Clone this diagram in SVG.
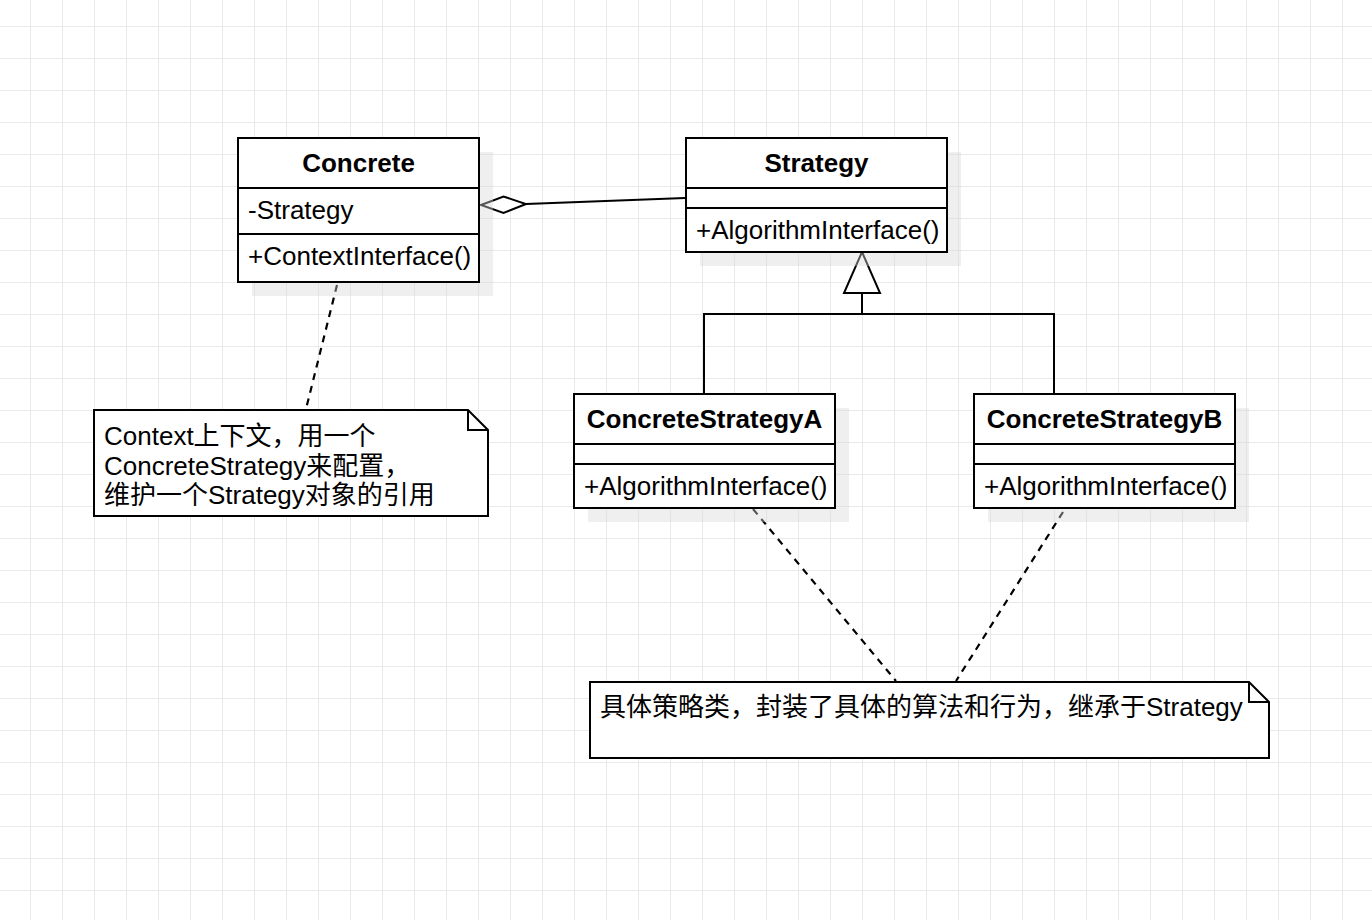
<svg xmlns="http://www.w3.org/2000/svg" width="1372" height="920" viewBox="0 0 1372 920">
  <defs>
    <pattern id="grid" x="30" y="26" width="32" height="32" patternUnits="userSpaceOnUse">
      <path d="M0.5 0 V32 M0 0.5 H32" fill="none" stroke="#e9e9e9" stroke-width="1"/>
    </pattern>
  </defs>
  <style>
    .box { fill: #ffffff; stroke: #000000; stroke-width: 2; }
    .shadow { fill: #d8d8d8; fill-opacity: 0.4; }
    .sep { stroke: #000000; stroke-width: 2; fill: none; }
    .t { font-family: "Liberation Sans", "Noto Sans CJK SC", sans-serif; font-size: 26px; fill: #000000; }
    .b { font-weight: bold; text-anchor: middle; }
    .edge { fill: none; stroke: #000000; stroke-width: 2; }
    .dash { fill: none; stroke: #000000; stroke-width: 2.2; stroke-dasharray: 7 6; }
  </style>
  <rect x="0" y="0" width="1372" height="920" fill="#ffffff"/>
  <rect x="0" y="0" width="1372" height="920" fill="url(#grid)"/>

  <g id="connectors">
    <polygon points="481,205 503.5,196.5 526,204 503.5,213" fill="#ffffff" stroke="#000000" stroke-width="2"/>
    <line class="edge" x1="526" y1="204" x2="685" y2="198"/>
    <polygon points="862,252 844,293 880,293" fill="#ffffff" stroke="#000000" stroke-width="2"/>
    <path class="edge" d="M862 293 V314 M704 394 V314 H1054 V394"/>
    <line class="dash" x1="337" y1="285" x2="306" y2="409"/>
    <line class="dash" x1="753" y1="509" x2="896" y2="681"/>
    <line class="dash" x1="1063" y1="512" x2="956" y2="681"/>
  </g>

  <g id="node-concrete">
    <rect class="shadow" x="252" y="152" width="241" height="144"/>
    <rect class="box" x="238" y="138" width="241" height="144"/>
    <path class="sep" d="M238 188 H479 M238 234 H479"/>
    <text class="t b" x="358.5" y="172">Concrete</text>
    <text class="t" x="248" y="219">-Strategy</text>
    <text class="t" x="248" y="265">+ContextInterface()</text>
  </g>

  <g id="node-strategy">
    <rect class="shadow" x="700" y="152" width="261" height="114"/>
    <rect class="box" x="686" y="138" width="261" height="114"/>
    <path class="sep" d="M686 188 H947 M686 208 H947"/>
    <text class="t b" x="816.5" y="172">Strategy</text>
    <text class="t" x="696" y="239">+AlgorithmInterface()</text>
  </g>

  <g id="node-concrete-strategy-a">
    <rect class="shadow" x="588" y="408" width="261" height="114"/>
    <rect class="box" x="574" y="394" width="261" height="114"/>
    <path class="sep" d="M574 444 H835 M574 464 H835"/>
    <text class="t b" x="704.5" y="428">ConcreteStrategyA</text>
    <text class="t" x="584" y="495">+AlgorithmInterface()</text>
  </g>

  <g id="node-concrete-strategy-b">
    <rect class="shadow" x="988" y="408" width="261" height="114"/>
    <rect class="box" x="974" y="394" width="261" height="114"/>
    <path class="sep" d="M974 444 H1235 M974 464 H1235"/>
    <text class="t b" x="1104.5" y="428">ConcreteStrategyB</text>
    <text class="t" x="984" y="495">+AlgorithmInterface()</text>
  </g>

  <g id="note-context">
    <path class="box" d="M94 410 H468 L488 430 V516 H94 Z"/>
    <path class="sep" d="M468 410 V430 H488"/>
    <text class="t" x="104" y="445">Context上下文，用一个</text>
    <text class="t" x="104" y="474.5">ConcreteStrategy来配置，</text>
    <text class="t" x="104" y="504">维护一个Strategy对象的引用</text>
  </g>

  <g id="note-concrete-strategy">
    <path class="box" d="M590 682 H1249 L1269 702 V758 H590 Z"/>
    <path class="sep" d="M1249 682 V702 H1269"/>
    <text class="t" x="600" y="716">具体策略类，封装了具体的算法和行为，继承于Strategy</text>
  </g>
</svg>
